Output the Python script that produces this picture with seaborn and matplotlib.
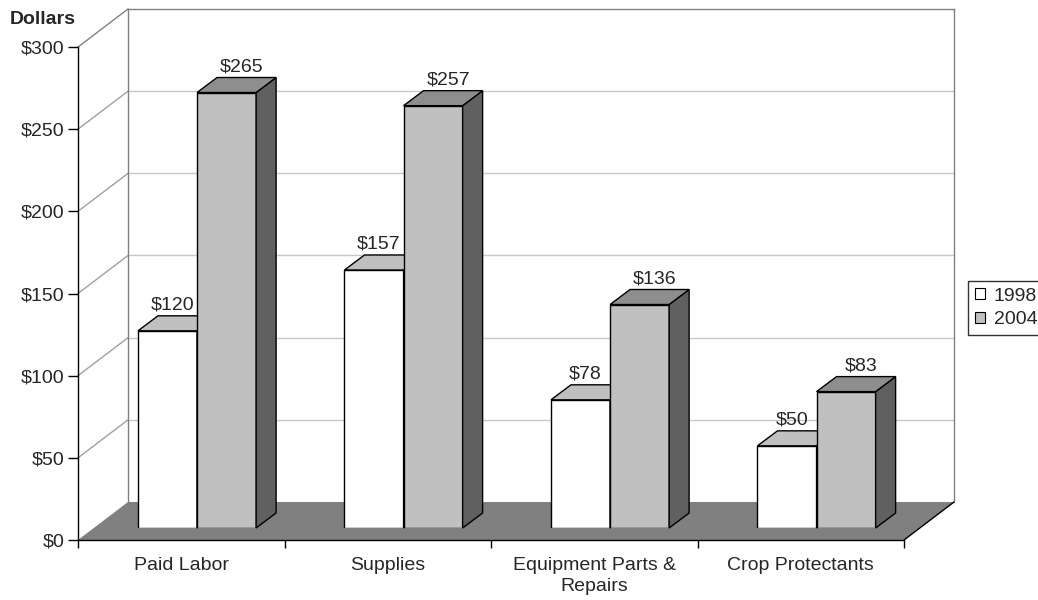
import numpy as np
import pandas as pd
import matplotlib
matplotlib.use('Agg')
import matplotlib.pyplot as plt
from matplotlib.patches import Polygon, Patch
import seaborn as sns

# chart data
categories = ['Paid Labor', 'Supplies', 'Equipment Parts &\nRepairs', 'Crop Protectants']
years = ['1998', '2004']
costs_1998 = [120, 157, 78, 50]
costs_2004 = [265, 257, 136, 83]
y_ticks = [0, 50, 100, 150, 200, 250, 300]

df = pd.DataFrame({'Category': categories * 2,
                   'Year': [years[0]] * 4 + [years[1]] * 4,
                   'Cost': costs_1998 + costs_2004})

front_colors = {'1998': 'white', '2004': '#c0c0c0'}
top_colors = {'1998': '#c0c0c0', '2004': '#8e8e8e'}
side_colors = {'1998': '#a0a0a0', '2004': '#606060'}
label_shift = {'1998': 5, '2004': 15}   # px, label offset from bar centre

sns.set_style('white')
plt.rcParams['font.family'] = ['Liberation Sans', 'DejaVu Sans']
FS = 14

W, H = 1038, 600
fig = plt.figure(figsize=(W / 100, H / 100), dpi=100, facecolor='white')

# three planes of the fake 3d box: back wall, bar plane, front axis
pw, ph = 826, 493
ax_back = fig.add_axes([128 / W, 98 / H, pw / W, ph / H])
ax_bar = fig.add_axes([93.8 / W, 72 / H, pw / W, ph / H])
ax_front = fig.add_axes([78 / W, 60 / H, pw / W, ph / H])
ax_back.set_zorder(0)
ax_bar.set_zorder(1)
ax_front.set_zorder(2)

ux = 4 / pw      # data units per pixel (x)
uy = 300 / ph    # data units per pixel (y)

# ---- back wall, floor, side wall
ax_back.set_xlim(-0.5, 3.5)
ax_back.set_ylim(0, 300)
ax_back.set_facecolor('white')
ax_back.set_xticks([])
ax_back.set_yticks([])
for s in ['left', 'top', 'right']:
    ax_back.spines[s].set_color('#808080')
    ax_back.spines[s].set_linewidth(1)
ax_back.spines['bottom'].set_visible(False)
for v in y_ticks[1:-1]:
    ax_back.axhline(v, color='#c8c8c8', lw=1, zorder=0)

wx, wy = 50 * ux, 38 * uy
floor = Polygon([(-0.5, 0), (3.5, 0), (3.5 - wx, -wy), (-0.5 - wx, -wy)],
                closed=True, fc='#808080', ec='none', clip_on=False, zorder=3)
ax_back.add_patch(floor)
ax_back.plot([3.5, 3.5 - wx], [0, -wy], color='black', lw=1, clip_on=False, zorder=4)
for v in y_ticks[1:]:
    ax_back.plot([-0.5 - wx, -0.5], [v - wy, v], color='#a0a0a0' if v < 300 else '#808080',
                 lw=1, clip_on=False, zorder=2)

# ---- bars
sns.barplot(data=df, x='Category', y='Cost', hue='Year', palette=front_colors,
            width=0.572, saturation=1, edgecolor='black', linewidth=1,
            ax=ax_bar, legend=False)
ax_bar.set_xlim(-0.5, 3.5)
ax_bar.set_ylim(0, 300)
ax_bar.axis('off')

dx, dy = 20 * ux, 15 * uy
for i, (cont, yr) in enumerate(zip(ax_bar.containers, years)):
    z = 2 + i
    for bar in cont:
        bar.set_zorder(z)
        x0, w, h = bar.get_x(), bar.get_width(), bar.get_height()
        x1 = x0 + w
        top = Polygon([(x0, h), (x1, h), (x1 + dx, h + dy), (x0 + dx, h + dy)],
                      closed=True, fc=top_colors[yr], ec='black', lw=1, zorder=z, clip_on=False)
        side = Polygon([(x1, 0), (x1, h), (x1 + dx, h + dy), (x1 + dx, dy)],
                       closed=True, fc=side_colors[yr], ec='black', lw=1, zorder=z, clip_on=False)
        ax_bar.add_patch(side)
        ax_bar.add_patch(top)
        ax_bar.text(x0 + w / 2 + label_shift[yr] * ux, h + dy + 6 * uy, f'${h:.0f}',
                    ha='center', va='baseline', fontsize=FS, zorder=5)

# ---- front axis (ticks and labels)
ax_front.set_xlim(-0.5, 3.5)
ax_front.set_ylim(0, 300)
ax_front.patch.set_alpha(0)
for s in ['top', 'right']:
    ax_front.spines[s].set_visible(False)
for s in ['left', 'bottom']:
    ax_front.spines[s].set_color('black')
    ax_front.spines[s].set_linewidth(1)
ax_front.set_yticks(y_ticks, [f'${v}' for v in y_ticks])
ax_front.set_xticks(range(4), categories)
ax_front.set_xticks(np.arange(-0.5, 4, 1), minor=True)
ax_front.tick_params(axis='x', which='major', bottom=True, length=0, pad=12, labelsize=FS)
ax_front.tick_params(axis='x', which='minor', bottom=True, length=6, width=1,
                     direction='out', color='black')
ax_front.tick_params(axis='y', left=True, length=7, width=1, direction='out',
                     color='black', pad=3, labelsize=FS)
for lab in ax_front.get_xticklabels():
    lab.set_linespacing(1.3)

fig.text(10 / W, 1 - 19 / H, 'Dollars', fontweight='bold', fontsize=FS, va='center')

handles = [Patch(fc=front_colors[y], ec='black', lw=0.8) for y in years]
leg = fig.legend(handles, years, loc='center left', bbox_to_anchor=(968 / W, 1 - 308 / H),
                 frameon=True, fancybox=False, edgecolor='black', fontsize=FS,
                 handlelength=0.52, handleheight=0.52, handletextpad=0.45,
                 borderpad=0.35, labelspacing=0.35, borderaxespad=0)
leg.get_frame().set_linewidth(1)

fig.savefig('out.png', dpi=100, facecolor='white')
